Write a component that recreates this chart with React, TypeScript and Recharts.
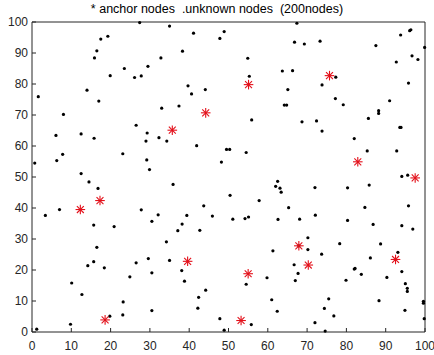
import { ScatterChart, Scatter, XAxis, YAxis } from "recharts";

// unknown nodes (black dots)
const unknownX = [
  17.5, 19.3, 16.5, 15.9, 23.5, 19.9, 1.6, 14.0, 17.0, 8.0, 6.1, 12.5, 15.8, 7.8, 6.3, 23.1, 0.7, 12.5,
  27.4, 35.0, 41.1, 48.9, 47.8, 38.3, 32.8, 29.5, 26.1, 27.8, 39.7, 40.6, 44.1, 33.0, 37.4, 26.5, 29.3, 29.0, 32.3, 34.3, 41.9, 49.5, 50.3, 29.2, 29.9, 48.2,
  67.4, 66.8, 69.3, 73.3, 54.9, 63.7, 66.3, 55.3, 73.8, 65.1, 64.2, 64.8, 55.9, 68.7, 72.4, 73.8, 54.5,
  96.4, 96.1, 93.8, 87.5, 99.9, 96.7, 98.2, 92.7, 77.3, 95.8, 77.2, 79.2, 91.0, 88.2, 88.2, 85.6, 93.6, 93.9, 82.0, 85.3, 92.8, 94.1, 95.6,
  14.5, 16.8, 3.4, 7.0, 15.7, 20.9, 16.5, 14.2, 15.7, 18.4, 24.9, 10.1, 12.7, 23.2, 23.1, 19.8, 9.8, 1.2,
  35.9, 50.4, 27.8, 32.1, 30.5, 43.7, 39.4, 45.9, 38.2, 37.1, 42.7, 34.2, 26.5, 29.6, 35.0, 30.5, 38.1, 38.8, 44.2, 42.4, 42.2, 30.5, 47.8, 48.9, 51.1,
  62.5, 62.0, 63.1, 63.4, 72.0, 57.8, 65.3, 54.2, 55.1, 62.6, 68.1, 72.1, 70.2, 67.9, 70.2, 73.7, 61.3, 66.7, 67.7, 67.0, 54.5, 59.8, 61.0, 62.4, 75.5, 74.4, 55.8, 72.0, 74.6,
  80.3, 85.8, 84.7, 95.8, 80.3, 86.8, 94.1, 96.9, 78.3, 88.7, 93.1, 86.1, 82.2, 82.0, 83.8, 79.9, 90.3, 94.1, 95.0, 95.5, 95.5, 88.3, 99.6, 99.6, 94.9, 76.8, 99.8,
];
const unknownY = [
  94.5, 95.4, 90.7, 88.4, 85.0, 82.7, 75.9, 78.0, 74.5, 70.2, 63.4, 63.9, 62.5, 57.3, 55.3, 57.5, 54.5, 51.1,
  99.8, 98.7, 96.4, 96.9, 94.7, 90.6, 88.4, 85.7, 82.1, 82.6, 79.4, 76.8, 78.2, 72.2, 72.9, 66.7, 64.2, 61.6, 62.7, 61.6, 60.1, 58.9, 58.9, 55.5, 52.4, 54.8,
  99.6, 93.5, 92.9, 93.8, 88.3, 84.2, 84.3, 82.5, 79.7, 78.2, 73.2, 73.2, 68.4, 67.8, 68.1, 64.8, 57.9,
  97.5, 97.2, 95.8, 92.4, 91.8, 89.1, 87.9, 87.1, 82.2, 80.3, 75.3, 73.3, 74.6, 71.4, 70.5, 68.9, 66.0, 66.0, 62.4, 58.4, 58.4, 50.2, 50.6,
  48.4, 46.3, 37.6, 39.5, 34.5, 34.0, 27.3, 21.4, 22.7, 20.7, 17.8, 15.8, 12.1, 9.7, 5.5, 5.1, 2.5, 0.9,
  47.6, 44.1, 39.4, 37.8, 35.7, 40.7, 37.6, 37.4, 34.8, 32.7, 32.8, 29.1, 22.3, 23.7, 23.1, 19.1, 19.8, 16.4, 13.5, 11.2, 7.7, 6.9, 4.3, 0.6, 36.4,
  48.6, 47.0, 46.4, 45.1, 46.6, 42.4, 40.1, 36.6, 37.1, 36.3, 36.4, 37.7, 30.4, 27.8, 26.6, 25.1, 26.2, 21.7, 18.9, 16.6, 15.4, 17.5, 10.4, 6.7, 10.7, 7.6, 2.4, 3.0, 0.3,
  46.5, 47.4, 40.2, 40.7, 36.0, 34.7, 34.3, 33.2, 28.5, 28.4, 25.7, 23.9, 20.5, 20.3, 18.6, 16.7, 17.6, 19.5, 15.6, 14.1, 13.1, 10.1, 9.9, 9.3, 7.0, 5.2, 4.3,
];

// anchor nodes (red asterisks)
const anchorX = [44.2, 35.7, 55.1, 75.7, 82.9, 97.5, 17.3, 12.3, 18.6, 39.6, 67.9, 70.3, 55.0, 53.2, 92.5];
const anchorY = [70.7, 65.1, 79.8, 82.7, 54.9, 49.7, 42.4, 39.5, 3.9, 22.8, 27.8, 21.6, 18.8, 3.7, 23.4];

const ticks = [0, 10, 20, 30, 40, 50, 60, 70, 80, 90, 100];

const unknownData = unknownX.map((x, i) => ({ x, y: unknownY[i] }));
const anchorData = anchorX.map((x, i) => ({ x, y: anchorY[i] }));

const AXIS = "#262626";
const tickFont = { fontFamily: "'Liberation Sans', Arial, sans-serif", fontSize: 12, fill: AXIS };

const Dot = (props: any) => <circle cx={props.cx} cy={props.cy} r={1.6} fill="#000" />;

const Star = (props: any) => {
  const { cx, cy } = props;
  const r = 4.8;
  const d = r * 0.72;
  return (
    <g stroke="#e3101a" strokeWidth={1.1}>
      <line x1={cx - r} y1={cy} x2={cx + r} y2={cy} />
      <line x1={cx} y1={cy - r} x2={cx} y2={cy + r} />
      <line x1={cx - d} y1={cy - d} x2={cx + d} y2={cy + d} />
      <line x1={cx - d} y1={cy + d} x2={cx + d} y2={cy - d} />
    </g>
  );
};

export default function App() {
  return (
    <div style={{ position: "absolute", left: 0, top: 0, width: 434, height: 355, background: "#fff" }}>
      <div
        style={{
          position: "absolute",
          top: 2,
          left: 0,
          width: 434,
          textAlign: "center",
          whiteSpace: "pre",
          fontFamily: "'Liberation Sans', Arial, sans-serif",
          fontSize: 12.5,
          color: "#000",
        }}
      >
        {"* anchor nodes  .unknown nodes  (200nodes)"}
      </div>
      <ScatterChart width={434} height={355} margin={{ top: 0, right: 0, bottom: 0, left: 0 }}>
        <XAxis
          xAxisId="bottom"
          dataKey="x"
          type="number"
          domain={[0, 100]}
          ticks={ticks}
          height={23}
          tickSize={-4}
          tickMargin={13}
          tick={tickFont}
          stroke={AXIS}
        />
        <XAxis
          xAxisId="top"
          orientation="top"
          dataKey="x"
          type="number"
          domain={[0, 100]}
          ticks={ticks}
          height={22}
          tickSize={-4}
          tick={false}
          stroke={AXIS}
        />
        <YAxis
          yAxisId="left"
          dataKey="y"
          type="number"
          domain={[0, 100]}
          ticks={ticks}
          width={32}
          tickSize={-4}
          tickMargin={8}
          tick={tickFont}
          stroke={AXIS}
        />
        <YAxis
          yAxisId="right"
          orientation="right"
          dataKey="y"
          type="number"
          domain={[0, 100]}
          ticks={ticks}
          width={9}
          tickSize={-4}
          tick={false}
          stroke={AXIS}
        />
        <Scatter data={unknownData} xAxisId="bottom" yAxisId="left" shape={Dot} isAnimationActive={false} />
        <Scatter data={anchorData} xAxisId="bottom" yAxisId="left" shape={Star} isAnimationActive={false} />
        <Scatter data={anchorData} xAxisId="top" yAxisId="right" shape={() => <g />} isAnimationActive={false} />
      </ScatterChart>
    </div>
  );
}
